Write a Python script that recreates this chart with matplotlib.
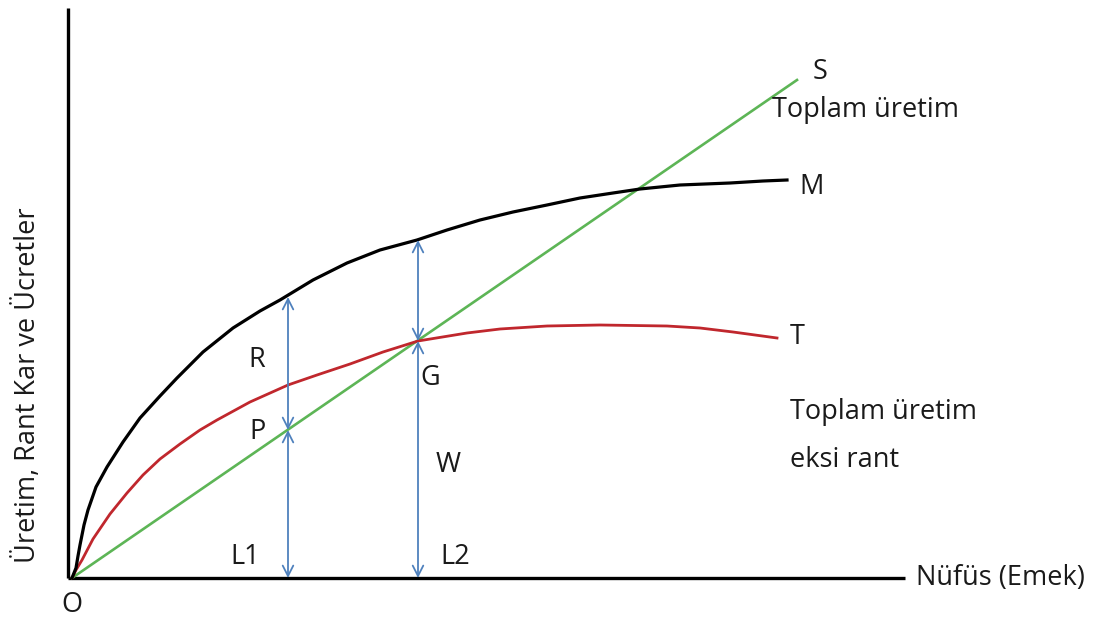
import matplotlib
matplotlib.use("Agg")
import matplotlib.pyplot as plt

plt.rcParams['font.family'] = ['Open Sans', 'DejaVu Sans']

# Black curve M (total production)
m_x = [4, 8, 10, 12, 16, 20, 28, 39, 55, 72, 92, 109, 135, 165, 192, 212, 245, 279, 312,
       349, 379, 412, 445, 479, 512, 545, 572, 612, 662, 695, 719]
m_y = [0, 10, 22, 33, 53, 68, 91, 111, 136, 160, 182, 200, 226, 250, 267, 278, 298, 315, 328,
       338, 348, 358, 366, 373, 380, 385, 389, 393, 395, 397, 398]
# Red curve T (total production minus rent)
t_x = [4, 8, 14, 25, 42, 59, 75, 92, 112, 132, 149, 182, 220, 249, 282, 315, 350, 399,
       432, 479, 532, 599, 632, 665, 709]
t_y = [0, 8, 18, 39, 64, 85, 103, 119, 134, 148, 158, 176, 193, 203, 214, 226, 237, 245,
       249, 252, 253, 252, 250, 246, 240]
# Green line S
s_x = [4, 729]
s_y = [0, 498]
# Vertical arrows at L1 and L2
arrow_x = [220, 350]
arrow_mid = [148, 237]
arrow_top = [281, 338]

fig = plt.figure(figsize=(11.16, 6.22), dpi=100)
ax = fig.add_axes([0, 0, 1, 1])
ax.set_xlim(-68, 1048)
ax.set_ylim(-44, 578)
ax.axis('off')

# axes lines
ax.plot([0, 0], [0, 570], color='black', lw=2.4, solid_capstyle='butt')
ax.plot([0, 837], [0, 0], color='black', lw=2.4, solid_capstyle='butt')

ax.plot(s_x, s_y, color='#5db556', lw=1.9)
ax.plot(t_x, t_y, color='#c0272d', lw=2.0, solid_joinstyle='round')
ax.plot(m_x, m_y, color='black', lw=2.3, solid_joinstyle='round')

blue = '#4f81bd'
for x, mid, top in zip(arrow_x, arrow_mid, arrow_top):
    for y0, y1 in [(0, mid), (mid, top)]:
        ax.annotate('', xy=(x, y1), xytext=(x, y0),
                    arrowprops=dict(arrowstyle='<->,head_length=0.75,head_width=0.38',
                                    color=blue, lw=1.3, shrinkA=0, shrinkB=0))

fs = 19.5
tc = '#1a1a1a'
ax.text(752, 506, 'S', fontsize=fs, ha='center', va='center', color=tc)
ax.text(797, 468, 'Toplam üretim', fontsize=fs, ha='center', va='center', color=tc)
ax.text(744, 391, 'M', fontsize=fs, ha='center', va='center', color=tc)
ax.text(729, 241, 'T', fontsize=fs, ha='center', va='center', color=tc)
ax.text(189, 218, 'R', fontsize=fs, ha='center', va='center', color=tc)
ax.text(189, 146, 'P', fontsize=fs, ha='center', va='center', color=tc)
ax.text(362, 200, 'G', fontsize=fs, ha='center', va='center', color=tc)
ax.text(380, 113, 'W', fontsize=fs, ha='center', va='center', color=tc)
ax.text(177, 21, 'L1', fontsize=fs, ha='center', va='center', color=tc)
ax.text(387, 21, 'L2', fontsize=fs, ha='center', va='center', color=tc)
ax.text(722, 166, 'Toplam üretim', fontsize=fs, ha='left', va='center', color=tc)
ax.text(722, 118, 'eksi rant', fontsize=fs, ha='left', va='center', color=tc)
ax.text(848, 0, 'Nüfüs (Emek)', fontsize=fs, ha='left', va='center', color=tc)
ax.text(4, -27, 'O', fontsize=fs, ha='center', va='center', color=tc)
ax.text(-40, 193, 'Üretim, Rant Kar ve Ücretler', fontsize=fs, ha='center', va='center',
        rotation=90, color=tc)

fig.savefig('out.png', dpi=100)
